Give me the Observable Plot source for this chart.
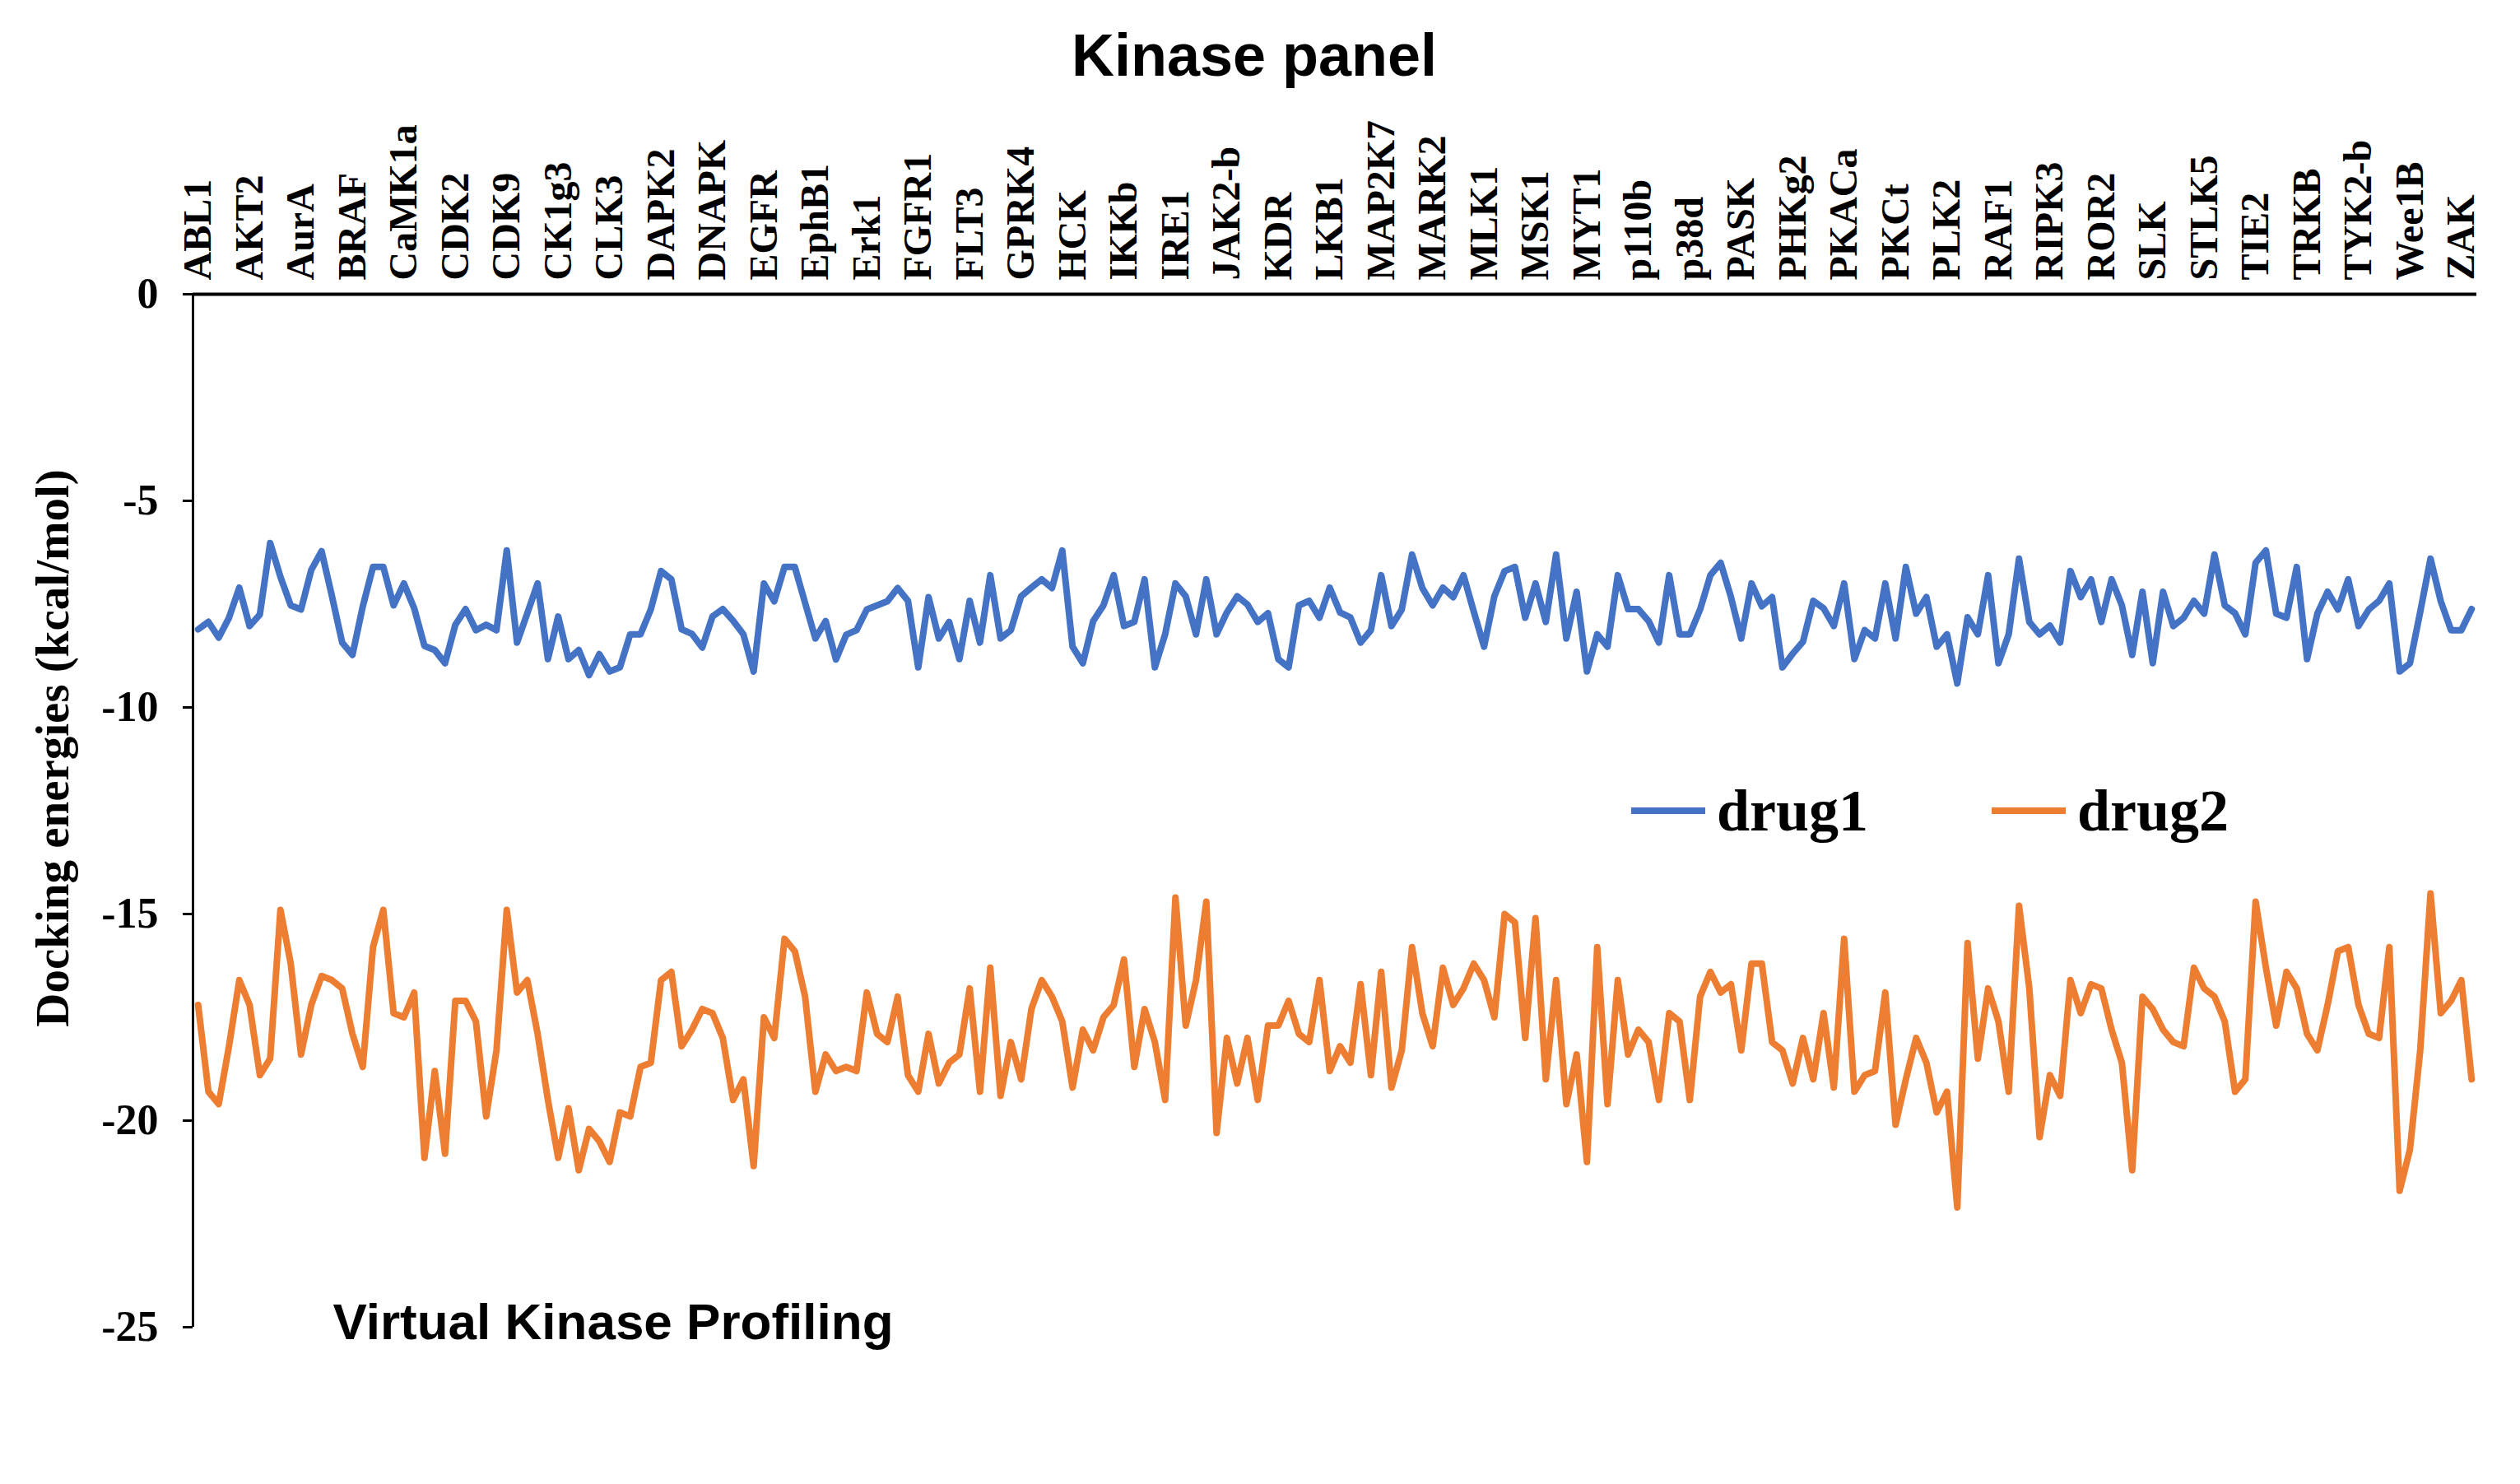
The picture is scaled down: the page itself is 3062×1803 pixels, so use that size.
<!DOCTYPE html>
<html>
<head>
<meta charset="utf-8">
<script src="https://cdn.jsdelivr.net/npm/d3@7"></script>
<script src="https://cdn.jsdelivr.net/npm/@observablehq/plot@0.6"></script>
<style>
  html, body { margin: 0; padding: 0; background: #fff; }
  #wrap { position: relative; width: 3062px; height: 1803px; }
  #legend { position: absolute; left: 1982px; top: 924px; font-family: "Liberation Serif", serif; font-weight: bold; font-size: 72px; color: #000; white-space: nowrap; }
  #legend .item { display: inline-flex; align-items: center; margin-right: 150px; }
  #legend .sw { display: inline-block; width: 90px; height: 8px; margin-right: 14px; }
</style>
</head>
<body>
<div id="wrap">
  <div id="chart"></div>
  <div id="legend"></div>
</div>
<script>
const kinaseLabels = ["ABL1","AKT2","AurA","BRAF","CaMK1a","CDK2","CDK9","CK1g3","CLK3","DAPK2","DNAPK","EGFR","EphB1","Erk1","FGFR1","FLT3","GPRK4","HCK","IKKb","IRE1","JAK2-b","KDR","LKB1","MAP2K7","MARK2","MLK1","MSK1","MYT1","p110b","p38d","PASK","PHKg2","PKACa","PKCt","PLK2","RAF1","RIPK3","ROR2","SLK","STLK5","TIE2","TRKB","TYK2-b","Wee1B","ZAK"];
const labelEvery = 5;
const yTicks = [0, -5, -10, -15, -20, -25];
const seriesNames = ["drug1", "drug2"];
const seriesColors = ["#4472C4", "#ED7D31"];

const drug1 = [
 -8.11,-7.93,-8.31,-7.83,-7.10,-8.03,-7.75,-6.02,-6.84,-7.53,
 -7.63,-6.67,-6.22,-7.30,-8.43,-8.73,-7.56,-6.60,-6.60,-7.53,
 -7.00,-7.60,-8.51,-8.61,-8.93,-8.00,-7.62,-8.13,-8.00,-8.13,
 -6.20,-8.43,-7.72,-7.00,-8.83,-7.80,-8.83,-8.61,-9.22,-8.71,
 -9.13,-9.03,-8.23,-8.23,-7.63,-6.70,-6.90,-8.11,-8.22,-8.55,
 -7.80,-7.62,-7.90,-8.23,-9.13,-7.00,-7.43,-6.60,-6.60,-7.47,
 -8.33,-7.91,-8.84,-8.24,-8.13,-7.63,-7.53,-7.43,-7.11,-7.42,
 -9.03,-7.33,-8.33,-7.93,-8.83,-7.42,-8.43,-6.80,-8.33,-8.13,
 -7.31,-7.10,-6.90,-7.11,-6.20,-8.53,-8.93,-7.91,-7.53,-6.80,
 -8.03,-7.93,-6.90,-9.03,-8.23,-7.00,-7.31,-8.23,-6.90,-8.23,
 -7.70,-7.31,-7.51,-7.93,-7.72,-8.83,-9.03,-7.53,-7.42,-7.83,
 -7.10,-7.70,-7.82,-8.43,-8.13,-6.80,-8.03,-7.63,-6.30,-7.11,
 -7.53,-7.10,-7.33,-6.80,-7.68,-8.53,-7.31,-6.70,-6.60,-7.83,
 -7.00,-7.93,-6.30,-8.33,-7.20,-9.13,-8.23,-8.53,-6.80,-7.62,
 -7.62,-7.91,-8.43,-6.80,-8.23,-8.23,-7.63,-6.80,-6.50,-7.33,
 -8.33,-7.00,-7.55,-7.33,-9.03,-8.70,-8.41,-7.42,-7.60,-8.03,
 -7.00,-8.83,-8.13,-8.33,-7.00,-8.33,-6.60,-7.73,-7.33,-8.53,
 -8.23,-9.42,-7.82,-8.23,-6.80,-8.93,-8.23,-6.40,-7.93,-8.23,
 -8.02,-8.43,-6.70,-7.33,-6.90,-7.93,-6.90,-7.53,-8.73,-7.20,
 -8.93,-7.20,-8.03,-7.83,-7.42,-7.73,-6.30,-7.53,-7.72,-8.23,
 -6.50,-6.20,-7.73,-7.83,-6.60,-8.83,-7.73,-7.20,-7.63,-6.90,
 -8.03,-7.63,-7.42,-7.00,-9.13,-8.93,-7.69,-6.40,-7.43,-8.13,
 -8.13,-7.62
];

const drug2 = [
 -17.2,-19.3,-19.6,-18.2,-16.6,-17.2,-18.9,-18.5,-14.9,-16.2,
 -18.4,-17.2,-16.5,-16.6,-16.8,-17.9,-18.7,-15.8,-14.9,-17.4,
 -17.5,-16.9,-20.9,-18.8,-20.8,-17.1,-17.1,-17.6,-19.9,-18.3,
 -14.9,-16.9,-16.6,-17.9,-19.5,-20.9,-19.7,-21.2,-20.2,-20.5,
 -21.0,-19.8,-19.9,-18.7,-18.6,-16.6,-16.4,-18.2,-17.8,-17.3,
 -17.4,-18.0,-19.5,-19.0,-21.1,-17.5,-18.0,-15.6,-15.9,-17.0,
 -19.3,-18.4,-18.8,-18.7,-18.8,-16.9,-17.9,-18.1,-17.0,-18.9,
 -19.3,-17.9,-19.1,-18.6,-18.4,-16.8,-19.3,-16.3,-19.4,-18.1,
 -19.0,-17.3,-16.6,-17.0,-17.6,-19.2,-17.8,-18.3,-17.5,-17.2,
 -16.1,-18.7,-17.3,-18.1,-19.5,-14.6,-17.7,-16.6,-14.7,-20.3,
 -18.0,-19.1,-18.0,-19.5,-17.7,-17.7,-17.1,-17.9,-18.1,-16.6,
 -18.8,-18.2,-18.6,-16.7,-18.9,-16.4,-19.2,-18.3,-15.8,-17.4,
 -18.2,-16.3,-17.2,-16.8,-16.2,-16.6,-17.5,-15.0,-15.2,-18.0,
 -15.1,-19.0,-16.6,-19.6,-18.4,-21.0,-15.8,-19.6,-16.6,-18.4,
 -17.8,-18.1,-19.5,-17.4,-17.6,-19.5,-17.0,-16.4,-16.9,-16.7,
 -18.3,-16.2,-16.2,-18.1,-18.3,-19.1,-18.0,-19.0,-17.4,-19.2,
 -15.6,-19.3,-18.9,-18.8,-16.9,-20.1,-19.0,-18.0,-18.6,-19.8,
 -19.3,-22.1,-15.7,-18.5,-16.8,-17.6,-19.3,-14.8,-16.8,-20.4,
 -18.9,-19.4,-16.6,-17.4,-16.7,-16.8,-17.8,-18.6,-21.2,-17.0,
 -17.3,-17.8,-18.1,-18.2,-16.3,-16.8,-17.0,-17.6,-19.3,-19.0,
 -14.7,-16.3,-17.7,-16.4,-16.8,-17.9,-18.3,-17.2,-15.9,-15.8,
 -17.2,-17.9,-18.0,-15.8,-21.7,-20.7,-18.3,-14.5,-17.4,-17.1,
 -16.6,-19.0
];

const n = drug1.length;
const rows = [];
[drug1, drug2].forEach((arr, s) => arr.forEach((v, i) => rows.push({i, v, series: seriesNames[s]})));
const tickIdx = kinaseLabels.map((_, k) => k * labelEvery);

const serif = "Liberation Serif, Times New Roman, serif";
const sans = "Liberation Sans, Arial, sans-serif";

const chart = Plot.plot({
  width: 3062,
  height: 1803,
  marginLeft: 234,
  marginRight: 53,
  marginTop: 357,
  marginBottom: 191,
  style: {fontFamily: serif, background: "#fff"},
  x: {domain: [-0.5, n - 0.5]},
  y: {domain: [-25, 0]},
  color: {domain: seriesNames, range: seriesColors},
  marks: [
    Plot.axisX({anchor: "top", ticks: tickIdx, tickSize: 0, tickRotate: -90, tickPadding: 17,
      tickFormat: d => kinaseLabels[d / labelEvery], fontSize: 48, fontWeight: "bold", fontFamily: serif, label: null}),
    Plot.axisY({ticks: yTicks, tickSize: 12, tickPadding: 30, tickFormat: d => String(d),
      fontSize: 52, fontWeight: "bold", fontFamily: serif, strokeWidth: 3, label: null}),
    Plot.ruleX([-0.5], {y1: -25, y2: 0, stroke: "#000", strokeWidth: 3}),
    Plot.ruleY([0], {stroke: "#000", strokeWidth: 4}),
    Plot.line(rows, {x: "i", y: "v", z: "series", stroke: "series", strokeWidth: 8, strokeLinejoin: "round", strokeLinecap: "round"}),
    Plot.text(["Docking energies (kcal/mol)"], {frameAnchor: "left", textAnchor: "middle", lineAnchor: "middle", rotate: -90, dx: -170, dy: -76, fontSize: 57, fontWeight: "bold", fontFamily: serif, fill: "#000"}),
    Plot.text(["Kinase panel"], {frameAnchor: "top", textAnchor: "middle", lineAnchor: "middle", dx: -98, dy: -289, fontSize: 72, fontWeight: "bold", fontFamily: sans, fill: "#000"}),
    Plot.text(["Virtual Kinase Profiling"], {frameAnchor: "bottom-left", textAnchor: "start", lineAnchor: "middle", dx: 170, dy: -5, fontSize: 62, fontWeight: "bold", fontFamily: sans, fill: "#000"})
  ]
});
document.getElementById("chart").appendChild(chart);

const legend = document.getElementById("legend");
seriesNames.forEach((name, k) => {
  const item = document.createElement("span");
  item.className = "item";
  const sw = document.createElement("span");
  sw.className = "sw";
  sw.style.background = seriesColors[k];
  item.appendChild(sw);
  item.appendChild(document.createTextNode(name));
  legend.appendChild(item);
});
</script>
</body>
</html>
